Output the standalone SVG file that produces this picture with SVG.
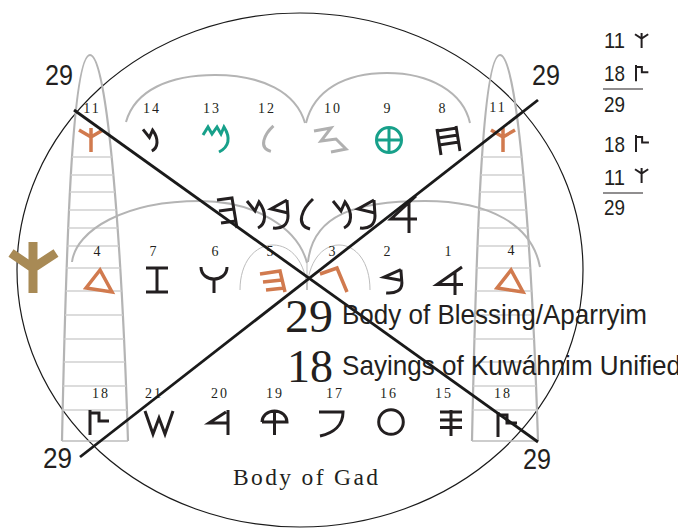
<svg xmlns="http://www.w3.org/2000/svg" width="678" height="529" viewBox="0 0 678 529">
<style>
.rail{fill:none;stroke:#b4b4b4;stroke-width:2.2}
.rung{stroke:#d0d0d0;stroke-width:1.6}
.arc{fill:none;stroke:#b4b4b4;stroke-width:2}
.thin{fill:none;stroke:#bdbdbd;stroke-width:1}
.blk{fill:none;stroke:#231f20;stroke-width:3}
.org{fill:none;stroke:#d17a4e;stroke-width:3.5}
.teal{fill:none;stroke:#17a08a;stroke-width:3}
.gry{fill:none;stroke:#b0b0b0;stroke-width:3}
.gold{fill:none;stroke:#a88a55;stroke-width:9}
.x{stroke:#1a1a1a;stroke-width:2.8;fill:none}
.num{font-family:"Liberation Serif",serif;font-size:14px;fill:#231f20;letter-spacing:2px;text-anchor:middle}
.sans{font-family:"Liberation Sans",Arial,sans-serif;fill:#231f20}
.serif{font-family:"Liberation Serif","Times New Roman",serif;fill:#231f20}
.leg{fill:none;stroke:#231f20;stroke-width:2}
</style>
<defs>
<path id="mem" vector-effect="non-scaling-stroke" d="M0,3 L8,13 L12,4 C20,15 19,26 11,30"/>
<path id="beth" vector-effect="non-scaling-stroke" d="M17,2 L1,11 L18,15 M17,2 L18,18 C18,27 12,31 3,30"/>
<path id="lamed" vector-effect="non-scaling-stroke" d="M17,1 C6,11 -1,27 14,31"/>
<path id="aleph" vector-effect="non-scaling-stroke" d="M26,0 L1,23 L27,23 M19,7 L19,37"/>
<path id="step" vector-effect="non-scaling-stroke" d="M0,0 V25 M0,3 H9 V11 H19"/>
<path id="kaph" vector-effect="non-scaling-stroke" d="M12,0 V24 M0,2 L12,9 L24,2"/>
<polygon id="tri" points="14,0 0,18 26,22"/>
<clipPath id="ladClip"><path d="M62,441 C66,250 72,55 90,55 C108,55 122,250 128,441 L128,444 L62,444 Z"/></clipPath>
<g id="ladder">
<path class="rail" d="M62,441 C66,250 72,55 90,55 C108,55 122,250 128,441"/>
<g clip-path="url(#ladClip)" class="rung">
<line x1="55" y1="157" x2="135" y2="157"/><line x1="55" y1="175" x2="135" y2="175"/>
<line x1="55" y1="192" x2="135" y2="192"/><line x1="55" y1="210" x2="135" y2="210"/>
<line x1="55" y1="228" x2="135" y2="228"/><line x1="55" y1="246" x2="135" y2="246"/>
<line x1="55" y1="268" x2="135" y2="268"/><line x1="55" y1="291" x2="135" y2="291"/>
<line x1="55" y1="315" x2="135" y2="315"/><line x1="55" y1="339" x2="135" y2="339"/>
<line x1="55" y1="362" x2="135" y2="362"/><line x1="55" y1="386" x2="135" y2="386"/>
<line x1="55" y1="410" x2="135" y2="410"/><line x1="55" y1="441" x2="135" y2="441" style="stroke:#bdbdbd"/>
</g>
</g>
</defs>

<g id="ellipse"><ellipse cx="300" cy="270" rx="283" ry="257" fill="none" stroke="#1a1a1a" stroke-width="1.2"/></g>

<g id="ladder-left"><use href="#ladder"/></g>
<g id="ladder-right"><use href="#ladder" transform="translate(410,0)"/></g>

<g id="arcs">
<path class="arc" d="M126,122 C135,90 170,75 215,75 C262,75 296,92 305,123"/>
<path class="arc" d="M306,123 C314,90 345,73 387,73 C430,73 463,92 470,123"/>
<path class="arc" d="M72,262 C76,230 125,201 200,201 C255,201 298,228 307,263"/>
<path class="arc" d="M308,262 C313,215 355,201 425,201 C490,201 532,225 540,267"/>
<path class="thin" d="M240,290 C240,262 255,245 273,245 C291,245 306,262 307,290"/>
<path class="thin" d="M307,290 C308,262 322,245 339,245 C356,245 370,262 370,290"/>
<line class="thin" x1="307" y1="263" x2="307" y2="290"/>
</g>

<g id="gold-kaph"><path class="gold" d="M33,242 V293 M11,253 L33,268 L56,253"/></g>

<g id="row-top">
<text class="num" x="92" y="113">11</text>
<use href="#kaph" class="org" transform="translate(79,128)"/>
<text class="num" x="152" y="113">14</text>
<use href="#mem" class="blk" transform="translate(143,127) scale(0.8)"/>
<text class="num" x="212" y="113">13</text>
<path class="teal" d="M203,135 L208,127 L212,134 L217,127 L221,134 L224,127 C231,138 229,147 219,152"/>
<text class="num" x="267" y="113">12</text>
<use href="#lamed" class="gry" transform="translate(259,125) scale(0.85)"/>
<text class="num" x="333" y="113">10</text>
<path class="gry" d="M314,131 L331,128 L321,141 L336,139 L346,149 L331,152"/>
<text class="num" x="388" y="113">9</text>
<g class="teal"><circle cx="389" cy="140" r="12.5"/><path d="M376,140 H402 M389,127 V153"/></g>
<text class="num" x="443" y="113">8</text>
<path class="blk" d="M437,129 L441,155 M456,126 L460,151 M437,131 L457,128 M438,138 L458,135 M439,145 L459,142"/>
<text class="num" x="498" y="112">11</text>
<use href="#kaph" class="org" transform="translate(491,128)"/>
</g>

<g id="row-middle">
<text class="num" x="98" y="256">4</text>
<use href="#tri" class="org" transform="translate(86,270)"/>
<text class="num" x="154" y="256">7</text>
<path class="blk" d="M146,268 H168 M157,268 V292 M146,292 H168"/>
<text class="num" x="216" y="256">6</text>
<path class="blk" d="M201,267 C201,283 227,283 227,267 M214,279 V293"/>
<text class="num" x="271" y="256">5</text>
<path class="org" d="M260,274 L280,271 L285,292 M263,282 L282,280 M266,290 L284.5,288"/>
<text class="num" x="333" y="256">3</text>
<path class="org" d="M320,274 L337,268 L347,292"/>
<text class="num" x="388" y="256">2</text>
<use href="#beth" class="blk" transform="translate(383,268) scale(1.05,0.83)"/>
<text class="num" x="449" y="256">1</text>
<use href="#aleph" class="blk" transform="translate(436,267) scale(1,0.76)"/>
<text class="num" x="512" y="255">4</text>
<use href="#tri" class="org" transform="translate(497,270)"/>
</g>

<g id="phrase" class="blk">
<path d="M217,200 L232,198 L237,228 M219,211 L234,209 M221,223 L236,221"/>
<use href="#mem" transform="translate(247,198)"/>
<use href="#beth" transform="translate(270,198)"/>
<use href="#lamed" transform="translate(296,198)"/>
<use href="#mem" transform="translate(333,198)"/>
<use href="#beth" transform="translate(357,198)"/>
<use href="#aleph" transform="translate(390,196)"/>
</g>

<g id="row-bottom">
<text class="num" x="101" y="398">18</text>
<use href="#step" class="blk" transform="translate(90,410)"/>
<text class="num" x="154" y="398">21</text>
<path class="blk" d="M145,411 L153,434 L159,418 L165,434 L173,411"/>
<text class="num" x="220" y="398">20</text>
<path class="blk" d="M226,412 L209,423 L228,423 M228,410 V435"/>
<text class="num" x="275" y="398">19</text>
<path class="blk" d="M262,422 A12.5,11 0 0 1 287,422 H262 M274.5,411 V435"/>
<text class="num" x="335" y="398">17</text>
<path class="blk" d="M319,412 H343 C343,425 334,433 320,436"/>
<text class="num" x="389" y="398">16</text>
<circle class="blk" cx="391" cy="422" r="12.3"/>
<text class="num" x="444" y="398">15</text>
<path class="blk" d="M440,412 H462 M440,420 H462 M440,427.5 H462 M451,410 V436"/>
<text class="num" x="503" y="398">18</text>
<use href="#step" class="blk" transform="translate(498,412)"/>
</g>

<g id="connectors">
<line class="x" x1="74" y1="110" x2="538" y2="442"/>
<line class="x" x1="80" y1="457" x2="538" y2="100"/>
</g>

<g id="labels">
<text class="sans" x="45" y="85" font-size="30" textLength="28" lengthAdjust="spacingAndGlyphs">29</text>
<text class="sans" x="532" y="85" font-size="30" textLength="28" lengthAdjust="spacingAndGlyphs">29</text>
<text class="sans" x="43" y="468" font-size="30" textLength="29" lengthAdjust="spacingAndGlyphs">29</text>
<text class="sans" x="523" y="469" font-size="30" textLength="28" lengthAdjust="spacingAndGlyphs">29</text>
<text class="serif" x="285" y="332" font-size="46" textLength="48" lengthAdjust="spacingAndGlyphs">29</text>
<text class="sans" x="342" y="324" font-size="28" textLength="305" lengthAdjust="spacingAndGlyphs">Body of Blessing/Aparryim</text>
<text class="serif" x="287" y="382" font-size="46" textLength="46" lengthAdjust="spacingAndGlyphs">18</text>
<text class="sans" x="342" y="375" font-size="28" textLength="339" lengthAdjust="spacingAndGlyphs">Sayings of Kuwáhnim Unified</text>
<text class="serif" x="233" y="485" font-size="23.5" textLength="145" lengthAdjust="spacing">Body of Gad</text>
</g>

<g id="legend">
<text class="sans" x="604" y="48" font-size="22" textLength="21" lengthAdjust="spacingAndGlyphs">11</text>
<use href="#kaph" class="leg" transform="translate(635,33) scale(0.55,0.62)"/>
<text class="sans" x="604" y="81" font-size="22" textLength="21" lengthAdjust="spacingAndGlyphs">18</text>
<use href="#step" class="leg" transform="translate(636,65) scale(0.65)"/>
<line x1="603" y1="89" x2="643" y2="89" stroke="#231f20" stroke-width="1.2"/>
<text class="sans" x="604" y="112" font-size="22" textLength="21" lengthAdjust="spacingAndGlyphs">29</text>
<text class="sans" x="604" y="152" font-size="22" textLength="21" lengthAdjust="spacingAndGlyphs">18</text>
<use href="#step" class="leg" transform="translate(636,135) scale(0.68)"/>
<text class="sans" x="604" y="185" font-size="22" textLength="21" lengthAdjust="spacingAndGlyphs">11</text>
<use href="#kaph" class="leg" transform="translate(635,168) scale(0.55,0.62)"/>
<line x1="603" y1="193" x2="643" y2="193" stroke="#231f20" stroke-width="1.2"/>
<text class="sans" x="604" y="215" font-size="22" textLength="21" lengthAdjust="spacingAndGlyphs">29</text>
</g>
</svg>
